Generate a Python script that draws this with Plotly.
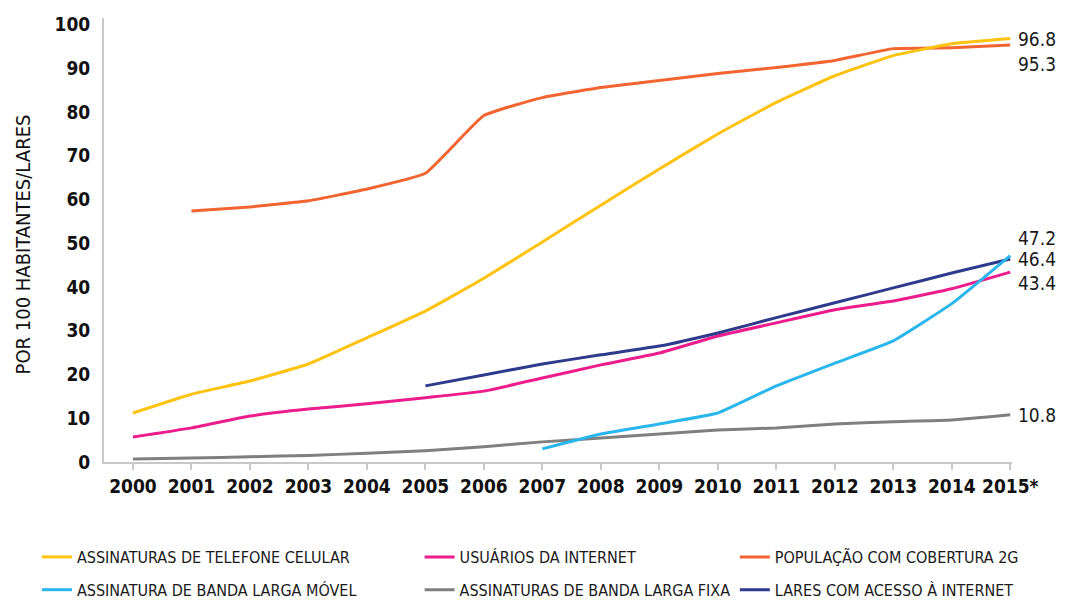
import plotly.graph_objects as go

years = list(range(2000, 2016))
tick_text = [str(y) for y in range(2000, 2015)] + ["2015*"]

cell_subs = [11.2, 15.5, 18.5, 22.4, 28.4, 34.5, 42.0, 50.3, 58.7, 67.0, 75.0, 82.2, 88.3, 92.9, 95.6, 96.8]
internet_users = [5.7, 7.8, 10.5, 12.1, 13.3, 14.7, 16.2, 19.2, 22.2, 24.9, 28.8, 31.8, 34.8, 36.8, 39.6, 43.4]
cover_2g = [None, 57.4, 58.3, 59.7, 62.4, 66.0, 79.2, 83.3, 85.6, 87.2, 88.8, 90.2, 91.8, 94.5, 94.7, 95.3]
mobile_bb = [None, None, None, None, None, None, None, 3.0, 6.4, 8.7, 11.2, 17.4, 22.6, 27.7, 36.2, 47.2]
fixed_bb = [0.7, 0.9, 1.2, 1.5, 2.0, 2.6, 3.5, 4.6, 5.5, 6.4, 7.3, 7.8, 8.7, 9.2, 9.6, 10.8]
households = [None, None, None, None, None, 17.4, 19.9, 22.4, 24.5, 26.5, 29.5, 33.0, 36.4, 39.8, 43.2, 46.4]

series = [
    ("ASSINATURAS DE TELEFONE CELULAR", cell_subs, "#FFC20E", "legend"),
    ("ASSINATURA DE BANDA LARGA MÓVEL", mobile_bb, "#29B6EC", "legend"),
    ("USUÁRIOS DA INTERNET", internet_users, "#EC1C8C", "legend2"),
    ("ASSINATURAS DE BANDA LARGA FIXA", fixed_bb, "#7F7F7F", "legend2"),
    ("POPULAÇÃO COM COBERTURA 2G", cover_2g, "#F26531", "legend3"),
    ("LARES COM ACESSO À INTERNET", households, "#2E3A8C", "legend3"),
]

NARROW = "DejaVu Sans Condensed, Liberation Sans Narrow, Arial Narrow, sans-serif"

fig = go.Figure()
# draw the 2G line before the cell line so yellow sits on top at the end
draw_order = [4, 2, 3, 5, 1, 0]
for i in draw_order:
    name, vals, color, leg = series[i]
    fig.add_trace(go.Scatter(
        x=years, y=vals, name=name, mode="lines",
        line=dict(color=color, width=3, shape="spline", smoothing=0.35),
        legend=leg, legendrank=i, legendgroup=f"g{i}",
    ))

# end-of-line value labels
end_labels = [
    (cell_subs[-1], 0),
    (cover_2g[-1], -19),
    (mobile_bb[-1], 18),
    (households[-1], 0),
    (internet_users[-1], -11),
    (fixed_bb[-1], 0),
]
for val, shift in end_labels:
    fig.add_annotation(
        x=2015, y=val, xref="x", yref="y", text=f"{val:.1f}",
        xanchor="left", yanchor="middle", xshift=6, yshift=shift,
        showarrow=False, font=dict(family=NARROW, size=19, color="#1a1a1a"),
    )

# vertical axis caption
fig.add_annotation(
    x=-0.0892, y=0.49, xref="paper", yref="paper", text="POR 100 HABITANTES/LARES",
    textangle=-90, showarrow=False, xanchor="center", yanchor="middle",
    font=dict(family=NARROW, size=20, color="#111111"),
)

legend_common = dict(
    orientation="v", yref="container", xref="container", yanchor="top", y=0.1015,
    xanchor="left",
    font=dict(family=NARROW, size=16, color="#1a1a1a"),
    bgcolor="rgba(0,0,0,0)", tracegroupgap=9, itemwidth=30,
)
fig.update_layout(
    width=1065, height=601,
    margin=dict(l=104, r=53, t=18, b=139, autoexpand=False),
    paper_bgcolor="white", plot_bgcolor="white",
    legend=dict(x=0.0347, **legend_common),
    legend2=dict(x=0.394, **legend_common),
    legend3=dict(x=0.690, **legend_common),
    xaxis=dict(
        range=[1999.505, 2015.03], tickmode="array", tickvals=years, ticktext=tick_text,
        tickangle=0,
        showgrid=False, zeroline=False, showline=True, linecolor="#c8c8c8", linewidth=2,
        ticks="outside", ticklen=6, tickcolor="#c8c8c8", tickwidth=2,
        tickfont=dict(family=NARROW, size=19, color="#111111", weight="bold"),
    ),
    yaxis=dict(
        range=[0, 101.5], tickmode="array", tickvals=list(range(0, 101, 10)),
        showgrid=False, zeroline=False, showline=True, linecolor="#c8c8c8", linewidth=2,
        ticks="", ticklabelstandoff=8,
        tickfont=dict(family=NARROW, size=19, color="#111111", weight="bold"),
    ),
)

fig.write_html("out.html")
